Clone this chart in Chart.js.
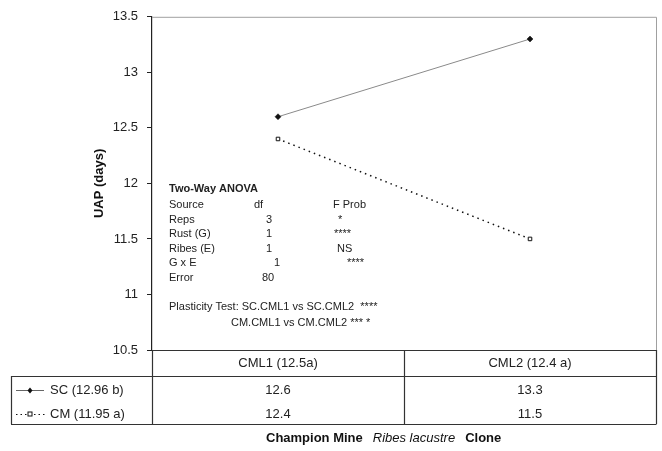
<!DOCTYPE html>
<html>
<head>
<meta charset="utf-8">
<script src="https://cdn.jsdelivr.net/npm/chart.js@4"></script>
<style>
  html, body { margin: 0; padding: 0; background: #fff; }
  #wrap { width: 662px; height: 451px; }
</style>
</head>
<body>
<div id="wrap"><canvas id="uap-chart"></canvas></div>
<script>
const CATEGORIES = ['CML1 (12.5a)', 'CML2 (12.4 a)'];
const SERIES_LABELS = ['SC (12.96 b)', 'CM (11.95 a)'];
const SC_VALUES = [12.6, 13.3];
const CM_VALUES = [12.4, 11.5];
const Y_MIN = 10.5;
const Y_MAX = 13.5;
const Y_STEP = 0.5;
const ANOVA_TITLE = 'Two-Way ANOVA';
const ANOVA_ROWS = [
    ['Source', 'df', 'F Prob'],
    ['Reps', '3', '*'],
    ['Rust (G)', '1', '****'],
    ['Ribes (E)', '1', 'NS'],
    ['G x E', '1', '****'],
    ['Error', '80', '']
];
const PLASTICITY = ['Plasticity Test: SC.CML1 vs SC.CML2  ****', 'CM.CML1 vs CM.CML2 *** *'];
const FOOTER = ['Champion Mine', 'Ribes lacustre', 'Clone'];

const FONT = 'Liberation Sans, Arial, sans-serif';

// x offsets (from plot left) of the df and F Prob cells, one per row
const DF_X = [102, 114, 114, 114, 122, 110];
const PROB_X = [181, 186, 182, 185, 195, 0];

const tablePlugin = {
    id: 'tablePlugin',
    afterDraw(chart) {
        const ctx = chart.ctx;
        const area = chart.chartArea;
        const x = chart.scales.x;
        const L = area.left, R = area.right, T = area.top, B = area.bottom;
        const headBottom = B + 26;
        const tableBottom = headBottom + 48;
        const boxLeft = 11;
        ctx.save();

        // plot frame (top / right grey, bottom dark)
        ctx.strokeStyle = '#a0a0a0';
        ctx.lineWidth = 1;
        ctx.beginPath();
        ctx.moveTo(L, T + 0.5); ctx.lineTo(R + 0.5, T + 0.5); ctx.lineTo(R + 0.5, B);
        ctx.stroke();

        ctx.strokeStyle = '#333';
        ctx.lineWidth = 1.2;
        ctx.beginPath();
        ctx.moveTo(L, B + 0.5); ctx.lineTo(R + 0.5, B + 0.5);
        ctx.moveTo(boxLeft, headBottom + 0.5); ctx.lineTo(R + 0.5, headBottom + 0.5);
        ctx.moveTo(boxLeft, tableBottom + 0.5); ctx.lineTo(R + 0.5, tableBottom + 0.5);
        ctx.moveTo(boxLeft + 0.5, headBottom); ctx.lineTo(boxLeft + 0.5, tableBottom);
        ctx.moveTo(L + 0.5, B); ctx.lineTo(L + 0.5, tableBottom);
        ctx.moveTo(R + 0.5, B); ctx.lineTo(R + 0.5, tableBottom);
        const mid = (x.getPixelForValue(0) + x.getPixelForValue(1)) / 2;
        ctx.moveTo(Math.round(mid) + 0.5, B); ctx.lineTo(Math.round(mid) + 0.5, tableBottom);
        ctx.stroke();

        // table text
        ctx.fillStyle = '#222';
        ctx.font = '13px ' + FONT;
        ctx.textBaseline = 'middle';
        ctx.textAlign = 'center';
        const rowY = [B + 13, headBottom + 14, headBottom + 38];
        CATEGORIES.forEach((c, i) => {
            const cx = x.getPixelForValue(i);
            ctx.fillText(c, cx, rowY[0]);
            ctx.fillText(SC_VALUES[i].toFixed(1), cx, rowY[1]);
            ctx.fillText(CM_VALUES[i].toFixed(1), cx, rowY[2]);
        });

        // legend cells
        ctx.textAlign = 'left';
        ctx.fillText(SERIES_LABELS[0], 50, rowY[1]);
        ctx.fillText(SERIES_LABELS[1], 50, rowY[2]);
        ctx.strokeStyle = '#666';
        ctx.lineWidth = 1;
        ctx.beginPath();
        ctx.moveTo(16, rowY[1] + 0.5); ctx.lineTo(44, rowY[1] + 0.5);
        ctx.stroke();
        ctx.fillStyle = '#111';
        ctx.beginPath();
        ctx.moveTo(30, rowY[1] - 2.5); ctx.lineTo(32.5, rowY[1] + 0.5);
        ctx.lineTo(30, rowY[1] + 3.5); ctx.lineTo(27.5, rowY[1] + 0.5);
        ctx.closePath(); ctx.fill();
        ctx.strokeStyle = '#111';
        ctx.setLineDash([1.5, 3]);
        ctx.beginPath();
        ctx.moveTo(16, rowY[2] + 0.5); ctx.lineTo(27, rowY[2] + 0.5);
        ctx.moveTo(34, rowY[2] + 0.5); ctx.lineTo(46, rowY[2] + 0.5);
        ctx.stroke();
        ctx.setLineDash([]);
        ctx.strokeRect(28, rowY[2] - 2, 4, 4);

        // footer
        ctx.fillStyle = '#111';
        let fx = 266;
        const fy = tableBottom + 14;
        const fonts = ['bold 13px ', 'italic 13px ', 'bold 13px '];
        FOOTER.forEach((t, i) => {
            ctx.font = fonts[i] + FONT;
            ctx.fillText(t, fx, fy);
            fx += ctx.measureText(t).width + 10;
        });

        // ANOVA annotation
        ctx.fillStyle = '#222';
        ctx.font = 'bold 11px ' + FONT;
        ctx.fillText(ANOVA_TITLE, L + 17, 189);
        ctx.font = '11px ' + FONT;
        ANOVA_ROWS.forEach((r, i) => {
            const y = 205 + i * 14.6;
            ctx.fillText(r[0], L + 17, y);
            ctx.fillText(r[1], L + DF_X[i], y);
            if (r[2]) ctx.fillText(r[2], L + PROB_X[i], y);
        });
        ctx.fillText(PLASTICITY[0], L + 17, 307);
        ctx.fillText(PLASTICITY[1], L + 79, 323);
        ctx.restore();
    }
};

function initConfig() {
    return {
        type: 'line',
        data: {
            labels: CATEGORIES,
            datasets: [
                {
                    label: SERIES_LABELS[0],
                    data: SC_VALUES,
                    borderColor: '#8a8a8a',
                    borderWidth: 1,
                    pointStyle: 'rectRot',
                    pointRadius: 3,
                    pointBackgroundColor: '#111',
                    pointBorderColor: '#111',
                    pointBorderWidth: 0.5
                },
                {
                    label: SERIES_LABELS[1],
                    data: CM_VALUES,
                    borderColor: '#111',
                    borderWidth: 1.5,
                    borderDash: [1.5, 4],
                    pointStyle: 'rect',
                    pointRadius: 2.5,
                    pointBackgroundColor: '#fff',
                    pointBorderColor: '#111',
                    pointBorderWidth: 1
                }
            ]
        },
        options: {
            responsive: true,
            maintainAspectRatio: false,
            animation: false,
            layout: { padding: { left: 88, top: 10, right: 6, bottom: 101 } },
            plugins: {
                legend: { display: false },
                tooltip: { enabled: false }
            },
            scales: {
                x: {
                    display: false,
                    offset: true
                },
                y: {
                    min: Y_MIN,
                    max: Y_MAX,
                    afterFit: (scale) => { scale.width = 64; },
                    ticks: {
                        stepSize: Y_STEP,
                        color: '#222',
                        padding: 9,
                        font: { family: FONT, size: 13 },
                        callback: (v) => String(v)
                    },
                    grid: {
                        drawOnChartArea: false,
                        drawTicks: true,
                        tickLength: 5,
                        color: '#222'
                    },
                    border: { color: '#222', width: 1.2 },
                    title: {
                        display: true,
                        text: 'UAP (days)',
                        color: '#111',
                        padding: 4,
                        font: { family: FONT, size: 13, weight: 'bold' }
                    }
                }
            }
        },
        plugins: [tablePlugin]
    };
}

new Chart(document.getElementById('uap-chart'), initConfig());
</script>
</body>
</html>
